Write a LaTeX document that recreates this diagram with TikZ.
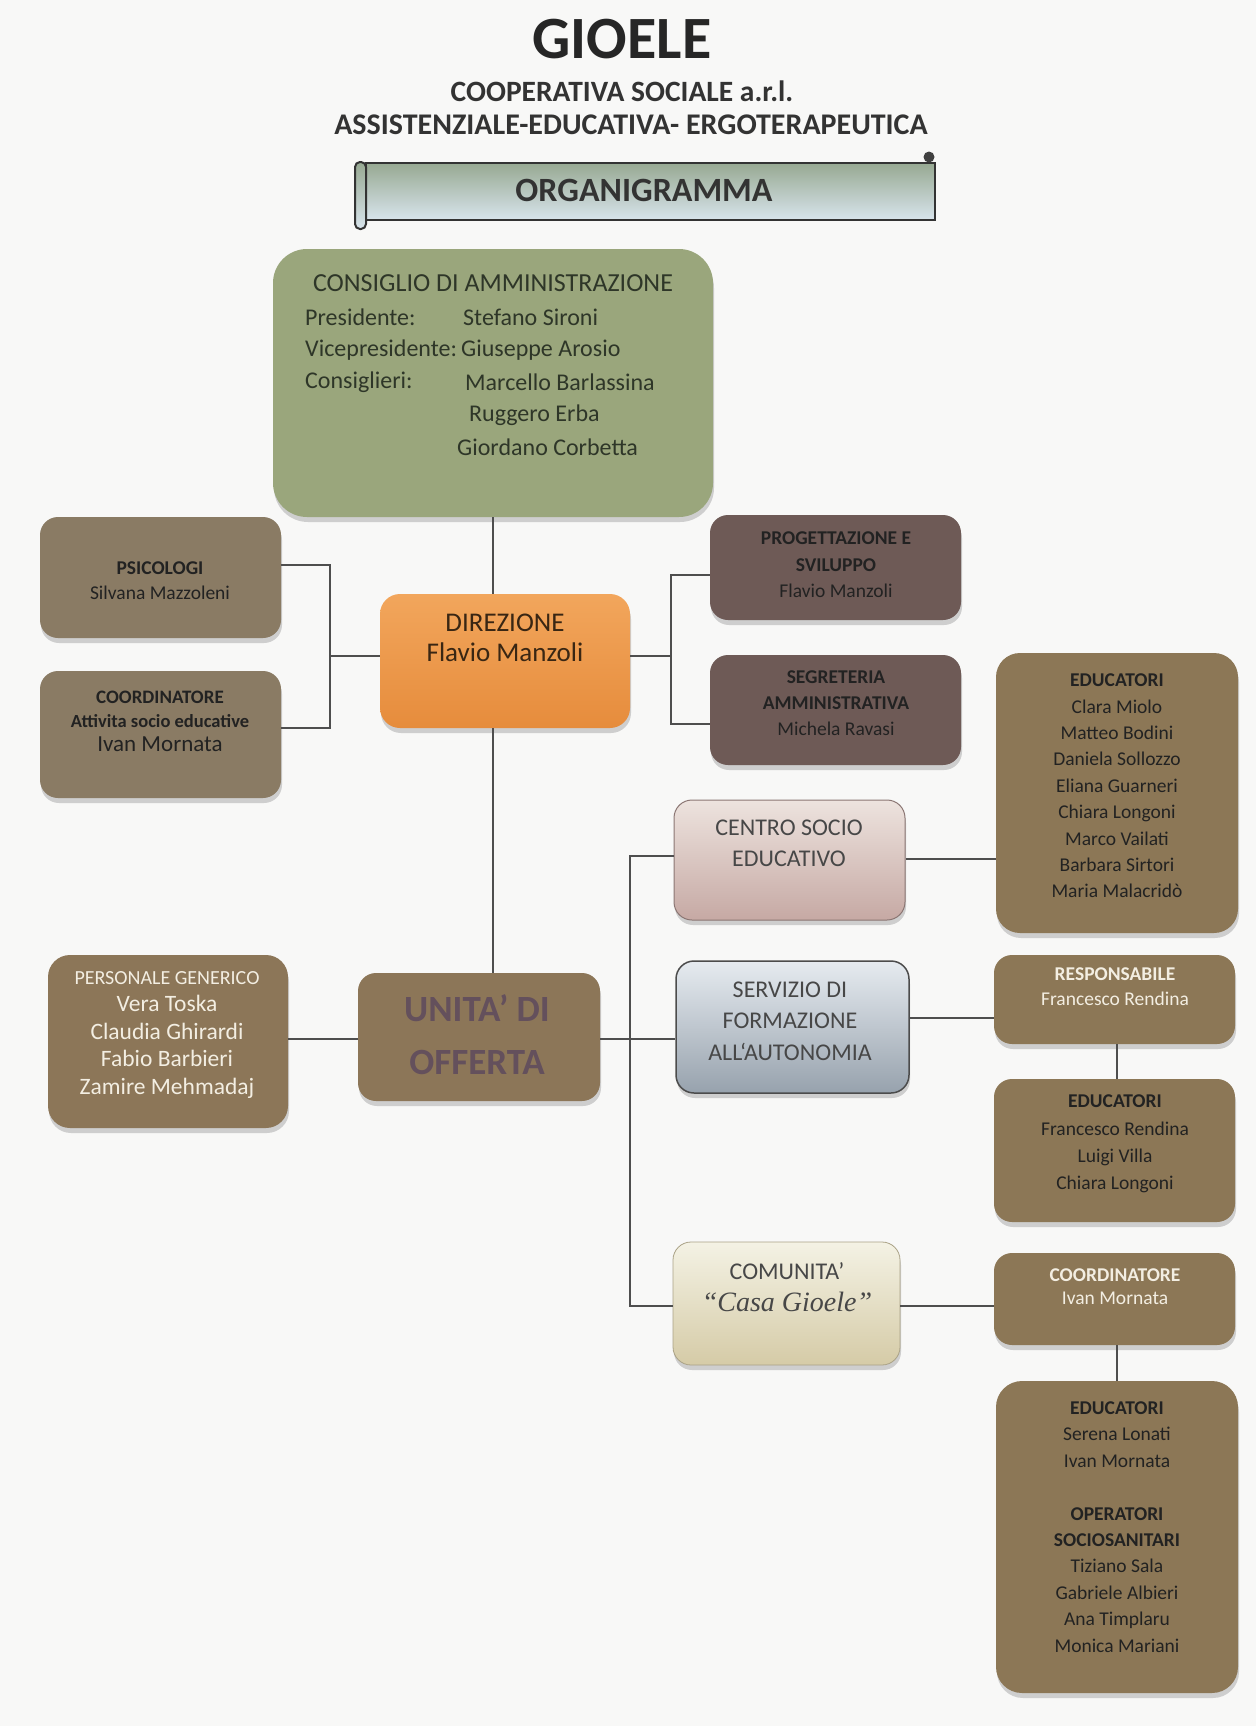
\documentclass[tikz,border=0pt]{standalone}
\usepackage{fontspec}
\setmainfont{Carlito}
\newfontfamily\serifit{Liberation Serif}
\usetikzlibrary{shadows}
\definecolor{bg}{HTML}{F8F8F7}
\definecolor{cgreen}{HTML}{9AA67C}
\definecolor{corangeT}{HTML}{F2A65C}
\definecolor{corangeB}{HTML}{E68C3C}
\definecolor{cbrown}{HTML}{8A7B64}
\definecolor{cunit}{HTML}{8C7658}
\definecolor{cmauve}{HTML}{6E5A56}
\definecolor{ceduc}{HTML}{8C7756}
\definecolor{centroT}{HTML}{EDE3DE}
\definecolor{centroB}{HTML}{C6A9A4}
\definecolor{servT}{HTML}{E6EBF0}
\definecolor{servB}{HTML}{97A2AD}
\definecolor{comT}{HTML}{F4F2E4}
\definecolor{comB}{HTML}{D5CBA7}
\definecolor{banT}{HTML}{97A992}
\definecolor{banB}{HTML}{D8E4EC}
\definecolor{linec}{HTML}{4E4E4E}
\definecolor{dtext}{HTML}{222222}
\definecolor{ltext}{HTML}{F3EEE2}
\definecolor{ctext}{HTML}{2E3628}
\definecolor{gtext}{HTML}{474747}
\definecolor{utext}{HTML}{64505C}
\newcommand\fsz[2]{\fontsize{#1}{#2}\selectfont}
\begin{document}
\begin{tikzpicture}[x=1pt,y=-1pt,
  box/.style={rectangle, draw=none, rounded corners=18pt, inner sep=0pt,
    drop shadow={shadow xshift=1pt, shadow yshift=-5pt, fill=black!35, opacity=0.5}},
  txt/.style={inner sep=0pt, align=center},
  link/.style={draw=linec, line width=1.8pt}]
\fill[bg] (0,0) rectangle (1256,1726);
\useasboundingbox (0,0) rectangle (1256,1726);

% ---------- header ----------
\node[txt, text=black!85, font=\bfseries\fsz{60}{60}] (title) at (622,39) {GIOELE};
\node[txt, text=black!80, font=\bfseries\fsz{29.5}{32}] (sub1) at (622,91) {COOPERATIVA SOCIALE a.r.l.};
\node[txt, text=black!80, font=\bfseries\fsz{30}{32}] (sub2) at (631,125) {ASSISTENZIALE-EDUCATIVA- ERGOTERAPEUTICA};

% scroll banner
\shade[top color=banT, bottom color=banB, draw=black!80, line width=2pt] (366,163) rectangle (935,220);
\shade[top color=banT, bottom color=banB, draw=black!80, line width=2pt, rounded corners=5pt] (355,162) rectangle (366,229);
\fill[black!75] (929,157) circle (5.5);
\node[txt, text=black!80, font=\bfseries\fsz{34}{36}] (organi) at (644,190) {ORGANIGRAMMA};

% ---------- boxes ----------
\node[box, fill=cgreen, rounded corners=34pt, minimum width=440, minimum height=268] (consiglio) at (493,383) {};
\node[box, top color=corangeT, bottom color=corangeB, rounded corners=20pt, minimum width=250, minimum height=134] (direzione) at (505,661) {};
\node[box, fill=cbrown, minimum width=241, minimum height=121] (psicologi) at (160.5,577.5) {};
\node[box, fill=cbrown, minimum width=241, minimum height=127] (coord1) at (160.5,734.5) {};
\node[box, fill=cmauve, minimum width=251, minimum height=105] (prog) at (835.5,567.5) {};
\node[box, fill=cmauve, minimum width=251, minimum height=110] (segr) at (835.5,710) {};
\node[box, fill=cunit, minimum width=242, minimum height=128] (unita) at (479,1037) {};
\node[box, fill=cunit, rounded corners=22pt, minimum width=240, minimum height=173] (personale) at (168,1041.5) {};
\node[box, top color=centroT, bottom color=centroB, draw=centroB!70!black, line width=1pt, minimum width=231, minimum height=120] (centro) at (789.5,860) {};
\node[box, top color=servT, bottom color=servB, draw=black!70, line width=1.5pt, minimum width=233, minimum height=132] (servizio) at (792.5,1027) {};
\node[box, top color=comT, bottom color=comB, draw=comB!80!black, line width=0.8pt, minimum width=227, minimum height=123] (comunita) at (786.5,1303.5) {};
\node[box, fill=ceduc, rounded corners=24pt, minimum width=242, minimum height=280] (educ1) at (1117,793) {};
\node[box, fill=ceduc, minimum width=241, minimum height=89] (resp) at (1114.5,999.5) {};
\node[box, fill=ceduc, minimum width=241, minimum height=143] (educ2) at (1114.5,1150.5) {};
\node[box, fill=ceduc, minimum width=241, minimum height=92] (coord2) at (1114.5,1299) {};
\node[box, fill=ceduc, rounded corners=26pt, minimum width=242, minimum height=312] (educ3) at (1117,1537) {};

% ---------- connectors ----------
\coordinate (cx) at (493,0);
\draw[link] (consiglio.south -| cx) -- (direzione.north -| cx);
\draw[link] (direzione.south -| cx) -- (unita.north -| cx);

\coordinate (lbt) at (330,565);
\coordinate (lbb) at (330,728);
\coordinate (lbm) at (330,656);
\draw[link] (psicologi.east |- lbt) -- (lbt) -- (lbb) -- (coord1.east |- lbb);
\draw[link] (lbm) -- (direzione.west |- lbm);

\coordinate (rbt) at (671,575);
\coordinate (rbb) at (671,724);
\coordinate (rbm) at (671,656);
\draw[link] (direzione.east |- rbm) -- (rbm);
\draw[link] (prog.west |- rbt) -- (rbt) -- (rbb) -- (segr.west |- rbb);

\coordinate (ut) at (630,856);
\coordinate (ub) at (630,1306);
\coordinate (um) at (630,1039);
\draw[link] (personale.east |- um) -- (unita.west |- um);
\draw[link] (unita.east |- um) -- (servizio.west |- um);
\draw[link] (centro.west |- ut) -- (ut) -- (ub) -- (comunita.west |- ub);

\coordinate (ey1) at (0,859);
\coordinate (ey2) at (0,1018);
\draw[link] (centro.east |- ey1) -- (educ1.west |- ey1);
\draw[link] (servizio.east |- ey2) -- (resp.west |- ey2);
\draw[link] (comunita.east |- ub) -- (coord2.west |- ub);

\coordinate (ex) at (1117,0);
\draw[link] (resp.south -| ex) -- (educ2.north -| ex);
\draw[link] (coord2.south -| ex) -- (educ3.north -| ex);

% ---------- texts ----------
\node[txt, text=ctext, font=\fsz{26}{30}] (consT) at (493,283) {CONSIGLIO DI AMMINISTRAZIONE};
\node[txt, text=ctext, font=\fsz{24}{28}, anchor=west] (presL) at (305,317) {Presidente:};
\node[txt, text=ctext, font=\fsz{24}{28}, anchor=west] (presN) at (463,317) {Stefano Sironi};
\node[txt, text=ctext, font=\fsz{24}{28}, anchor=west] (viceL) at (305,350) {Vicepresidente:};
\node[txt, text=ctext, font=\fsz{24}{28}, anchor=west] (viceN) at (461,350) {Giuseppe Arosio};
\node[txt, text=ctext, font=\fsz{24}{28}, anchor=west] (consL) at (305,382) {Consiglieri:};
\node[txt, text=ctext, font=\fsz{24}{28}, anchor=west] (consN1) at (465,382) {Marcello Barlassina};
\node[txt, text=ctext, font=\fsz{24}{28}, anchor=west] (consN2) at (469,415) {Ruggero Erba};
\node[txt, text=ctext, font=\fsz{24}{28}, anchor=west] (consN3) at (457,447) {Giordano Corbetta};

\node[txt, text=black!70!brown, font=\fsz{27}{30}] (dirT) at (505,638) {DIREZIONE\\Flavio Manzoli};

\node[txt, text=dtext, font=\fsz{19.5}{25}] (psiT) at (160,581) {\textbf{PSICOLOGI}\\Silvana Mazzoleni};
\node[txt, text=dtext, font=\fsz{19}{24}] (co1T) at (160,721) {\textbf{COORDINATORE}\\{\bfseries\fsz{18.5}{24}Attivita socio educative}\\{\fsz{23}{24}Ivan Mornata}};

\node[txt, text=dtext, font=\fsz{19.5}{26.5}] (progT) at (836,565) {\textbf{PROGETTAZIONE E}\\\textbf{SVILUPPO}\\Flavio Manzoli};
\node[txt, text=dtext, font=\fsz{19.5}{26}] (segrT) at (836,703) {\textbf{SEGRETERIA}\\\textbf{AMMINISTRATIVA}\\Michela Ravasi};

\node[txt, text=utext, font=\bfseries\fsz{37}{53}] (unitaT) at (477,1035) {UNITA’ DI\\OFFERTA};

\node[txt, text=ltext, font=\fsz{23.5}{27.5}] (persT) at (167,1035) {{\fsz{20}{27.5}PERSONALE GENERICO}\\Vera Toska\\Claudia Ghirardi\\Fabio Barbieri\\Zamire Mehmadaj};

\node[txt, text=gtext, font=\fsz{24}{31}] (centroT) at (789,843) {CENTRO SOCIO\\EDUCATIVO};
\node[txt, text=gtext, font=\fsz{24}{31.5}] (servT) at (790,1021) {SERVIZIO DI\\FORMAZIONE\\ALL‘AUTONOMIA};
\node[txt, text=gtext, font=\fsz{24}{31}] (comT1) at (787,1271) {COMUNITA’};
\node[txt, text=gtext, font=\serifit\itshape\fsz{28}{31}] (comT2) at (787,1302) {“Casa Gioele”};

\node[txt, text=dtext, font=\fsz{19.5}{26.4}] (ed1T) at (1117,786) {\textbf{EDUCATORI}\\Clara Miolo\\Matteo Bodini\\Daniela Sollozzo\\Eliana Guarneri\\Chiara Longoni\\Marco Vailati\\Barbara Sirtori\\Maria Malacrid\`o};
\node[txt, text=ltext, font=\fsz{19.5}{25}] (respT) at (1115,987) {\textbf{RESPONSABILE}\\Francesco Rendina};
\node[txt, text=dtext, font=\fsz{19.5}{27.3}] (ed2T) at (1115,1144) {\textbf{EDUCATORI}\\Francesco Rendina\\Luigi Villa\\Chiara Longoni};
\node[txt, text=ltext, font=\fsz{19.5}{23}] (co2T) at (1115,1287) {\textbf{COORDINATORE}\\Ivan Mornata};
\node[txt, text=dtext, font=\fsz{19.5}{26.4}] (ed3T) at (1117,1527) {\textbf{EDUCATORI}\\Serena Lonati\\Ivan Mornata\\\mbox{}\\\textbf{OPERATORI}\\\textbf{SOCIOSANITARI}\\Tiziano Sala\\Gabriele Albieri\\Ana Timplaru\\Monica Mariani};
\end{tikzpicture}
\end{document}
